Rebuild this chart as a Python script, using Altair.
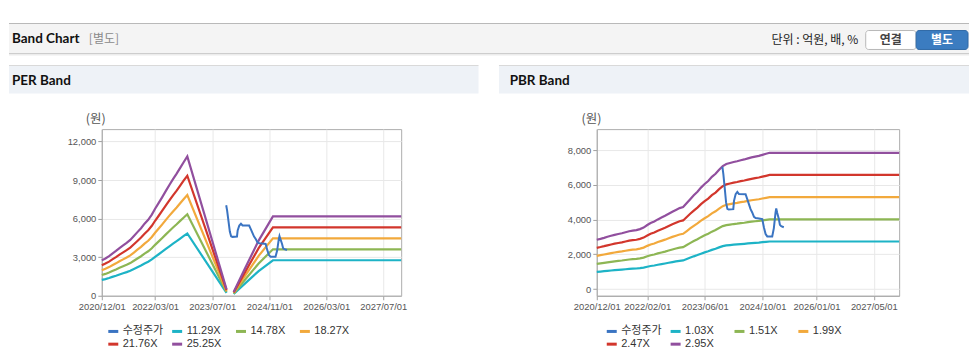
import altair as alt
import pandas as pd

# ---------------- data ----------------
SERIES_PER = ["수정주가", "11.29X", "14.78X", "18.27X", "21.76X", "25.25X"]
SERIES_PBR = ["수정주가", "1.03X", "1.51X", "1.99X", "2.47X", "2.95X"]
PER_MULT = [11.29, 14.78, 18.27, 21.76, 25.25]
PBR_MULT = [1.03, 1.51, 1.99, 2.47, 2.95]
COLORS = ["#3a74c2", "#1db3c6", "#8db654", "#f2a93c", "#d2362c", "#914f9e"]

# EPS (원) behind the PER bands, segment 1: 2020/12 .. 2022/12 monthly, then 2023/11
EPS_DATES_1 = [d.strftime("%Y-%m-%d") for d in pd.date_range("2020-12-01", periods=25, freq="MS")] + ["2023-11-01"]
EPS_VALUES_1 = [109, 115, 122, 130, 138, 147, 155, 163, 172, 184, 196, 208, 222,
                234, 250, 268, 286, 304, 323, 341, 359, 376, 394, 412, 429, 20]
# segment 2 (after the gap in 2023/12)
EPS_DATES_2 = ["2024-01-01", "2024-04-01", "2024-08-01", "2024-12-01", "2027-12-01"]
EPS_VALUES_2 = [12, 80, 170, 244.5, 244.5]

# BPS (원) behind the PBR bands, monthly 2020/12 .. 2024/12, then flat to 2027/12
BPS_DATES = [d.strftime("%Y-%m-%d") for d in pd.date_range("2020-12-01", periods=49, freq="MS")] + ["2027-12-01"]
BPS_VALUES = [962, 980, 1000, 1020, 1040, 1059, 1075, 1090, 1110, 1128, 1140, 1150, 1170,
              1200, 1250, 1290, 1320, 1360, 1395, 1430, 1470, 1510, 1545, 1580, 1600,
              1680, 1760, 1830, 1900, 1980, 2050, 2110, 2190, 2250, 2330, 2400, 2440,
              2460, 2480, 2495, 2515, 2530, 2550, 2570, 2585, 2600, 2620, 2640, 2660, 2660]

# 수정주가 (adjusted price)
PRICE_DATES = ["2023-10-29", "2023-11-06", "2023-11-17", "2023-11-29", "2023-12-10", "2023-12-21",
               "2024-01-29", "2024-02-04", "2024-02-18", "2024-03-03", "2024-03-17", "2024-05-12",
               "2024-05-26", "2024-06-09", "2024-06-23", "2024-07-07", "2024-07-22", "2024-08-05",
               "2024-09-02", "2024-09-30", "2024-10-14", "2024-10-28", "2024-11-11", "2024-12-23",
               "2025-01-06", "2025-01-20", "2025-01-26", "2025-02-03", "2025-02-17", "2025-02-26",
               "2025-03-09", "2025-03-31"]
PRICE_VALUES = [7040, 6620, 5850, 4990, 4620, 4580, 4600, 5080, 5470, 5600, 5470, 5460,
                5180, 4890, 4600, 4410, 4160, 4090, 4060, 4030, 3545, 3165, 3030, 3030,
                3510, 4400, 4640, 4400, 4030, 3700, 3620, 3560]

PER_XTICKS = ["2020-12-01", "2022-03-01", "2023-07-01", "2024-11-01", "2026-03-01", "2027-07-01"]
PBR_XTICKS = ["2020-12-01", "2022-02-01", "2023-06-01", "2024-10-01", "2026-01-01", "2027-05-01"]
PER_YTICKS = [0, 3000, 6000, 9000, 12000]
PBR_YTICKS = [0, 2000, 4000, 6000, 8000]

HEADER_TITLE = "Band Chart"
HEADER_SUB = "[별도]"
UNIT_TEXT = "단위 : 억원, 배, %"
BTN_1 = "연결"
BTN_2 = "별도"
PANEL_1 = "PER Band"
PANEL_2 = "PBR Band"
Y_UNIT = "(원)"

# ---------------- tables ----------------
def band_rows(dates, base, mults, names, seg):
    rows = []
    for m, name in zip(mults, names):
        for d, v in zip(dates, base):
            rows.append({"date": d, "value": v * m, "series": name, "seg": seg})
    return rows

per_df = pd.DataFrame(band_rows(EPS_DATES_1, EPS_VALUES_1, PER_MULT, SERIES_PER[1:], 1)
                      + band_rows(EPS_DATES_2, EPS_VALUES_2, PER_MULT, SERIES_PER[1:], 2))
pbr_df = pd.DataFrame(band_rows(BPS_DATES, BPS_VALUES, PBR_MULT, SERIES_PBR[1:], 1))
price_df = pd.DataFrame({"date": PRICE_DATES, "value": PRICE_VALUES, "series": "수정주가"})


def dt(s):
    y, m, d = (int(p) for p in s.split("-"))
    return alt.DateTime(year=y, month=m, date=d, utc=True)


FONT_NUM = "Liberation Sans"
FONT_MIX = "Liberation Sans, Noto Sans CJK KR"
FONT_KR = "Noto Sans CJK KR"
FONT_HEAD = "Lato"

# left plot origin on the page
OX, OY = 101, 128.3


def one():
    return alt.Data(values=[{"k": 1}])


def rect(x1, y1, x2, y2, fill, stroke=None, radius=0, opacity=1):
    kw = dict(fill=fill, opacity=opacity)
    if stroke:
        kw["stroke"] = stroke
        kw["strokeWidth"] = 1
    if radius:
        kw["cornerRadius"] = radius
    return alt.Chart(one()).mark_rect(**kw).encode(
        x=alt.value(x1 - OX), x2=alt.value(x2 - OX),
        y=alt.value(y1 - OY), y2=alt.value(y2 - OY))


def text(t, x, y, size, color, font, weight="normal", align="left"):
    return alt.Chart(one()).mark_text(
        text=t, align=align, baseline="alphabetic", fontSize=size, color=color,
        font=font, fontWeight=weight).encode(x=alt.value(x - OX), y=alt.value(y - OY))


deco = [
    rect(8, 8, 970, 356, "white", opacity=0),
    rect(8, 22, 970, 23, "#b9b9b9"),
    rect(8, 23, 970, 52, "#f4f4f4"),
    rect(8, 52, 970, 53, "#cdcdcd"),
    rect(8, 53, 970, 54.5, "#ececec"),
    text(HEADER_TITLE, 11, 42.5, 13.5, "#111111", FONT_HEAD, "bold"),
    text(HEADER_SUB, 88, 42.5, 12, "#8a8a8a", FONT_KR),
    text(UNIT_TEXT, 859, 43, 12, "#222222", FONT_KR, align="right"),
    rect(866.5, 29.5, 917, 48.5, "white", stroke="#b8b8b8", radius=3),
    text(BTN_1, 891.7, 43.3, 12, "#444444", FONT_KR, "bold", "center"),
    rect(917, 29.5, 969, 48.5, "#3b7cc0", stroke="#3069a6", radius=3),
    text(BTN_2, 943, 43.3, 12, "white", FONT_KR, "bold", "center"),
    rect(8, 64, 478.5, 65, "#d9d9d9"),
    rect(8, 65, 478.5, 92.5, "#eef2f7"),
    text(PANEL_1, 11, 84.3, 13.5, "#111111", FONT_HEAD, "bold"),
    rect(499, 64, 970, 65, "#d9d9d9"),
    rect(499, 65, 970, 92.5, "#eef2f7"),
    text(PANEL_2, 509.7, 84.3, 13.5, "#111111", FONT_HEAD, "bold"),
    text(Y_UNIT, 85, 122.5, 12.5, "#555555", FONT_KR),
    text(Y_UNIT, 581.7, 122.5, 12.5, "#555555", FONT_KR),
]


def band_chart(bands, series, ydomain, yticks, xticks, width, legend_x, extra):
    cscale = alt.Scale(domain=series, range=COLORS)
    legend = alt.Legend(
        orient="none", legendX=legend_x, legendY=196, columns=4, gridAlign="all",
        direction="horizontal", symbolType="stroke", symbolSize=100, symbolStrokeWidth=3,
        labelFontSize=11, labelFont=FONT_MIX, labelColor="#333333", columnPadding=2,
        rowPadding=-0.7, padding=0, labelOffset=3, title=None)
    x = alt.X("date:T", title=None,
              scale=alt.Scale(type="utc", domain=[dt("2020-12-01"), dt("2027-12-01")]),
              axis=alt.Axis(values=[dt(s) for s in xticks], format="%Y/%m/%d",
                            labelFontSize=9.4, labelColor="#555555", labelFont=FONT_NUM,
                            tickSize=4, tickColor="#a0a0a0", labelPadding=3,
                            domainColor="#a8a8a8", gridColor="#e8e8e8", grid=True,
                            labelOverlap=False, labelFlush=False))
    y = alt.Y("value:Q", title=None,
              scale=alt.Scale(domain=ydomain, nice=False, zero=False),
              axis=alt.Axis(values=yticks, format=",d", labelFontSize=9.4,
                            labelColor="#555555", labelFont=FONT_NUM, tickSize=4,
                            tickColor="#a0a0a0", labelPadding=2, domainColor="#a8a8a8",
                            gridColor="#e8e8e8", grid=True))
    band_layer = alt.Chart(bands).mark_line(strokeWidth=2.2).encode(
        x=x, y=y, color=alt.Color("series:N", scale=cscale, legend=legend),
        detail="seg:N")
    price_layer = alt.Chart(price_df).mark_line(strokeWidth=2).encode(
        x=x, y=y, color=alt.Color("series:N", scale=cscale, legend=legend))
    return alt.layer(*extra, band_layer, price_layer).properties(width=width, height=167)


left = band_chart(per_df, SERIES_PER, [0, 12960], PER_YTICKS, PER_XTICKS, 300, 5, deco)
right = band_chart(pbr_df, SERIES_PBR, [-385, 9210], PBR_YTICKS, PBR_XTICKS, 303, 8.5, [])

chart = alt.hconcat(left, right, spacing=196, bounds="flush", padding=0,
                    background="white").resolve_scale(
    color="independent", x="independent", y="independent"
).resolve_legend(color="independent").configure_view(stroke="#adadad", strokeWidth=1)

chart.save("out.html", embed_options={"renderer": "svg", "actions": False})
